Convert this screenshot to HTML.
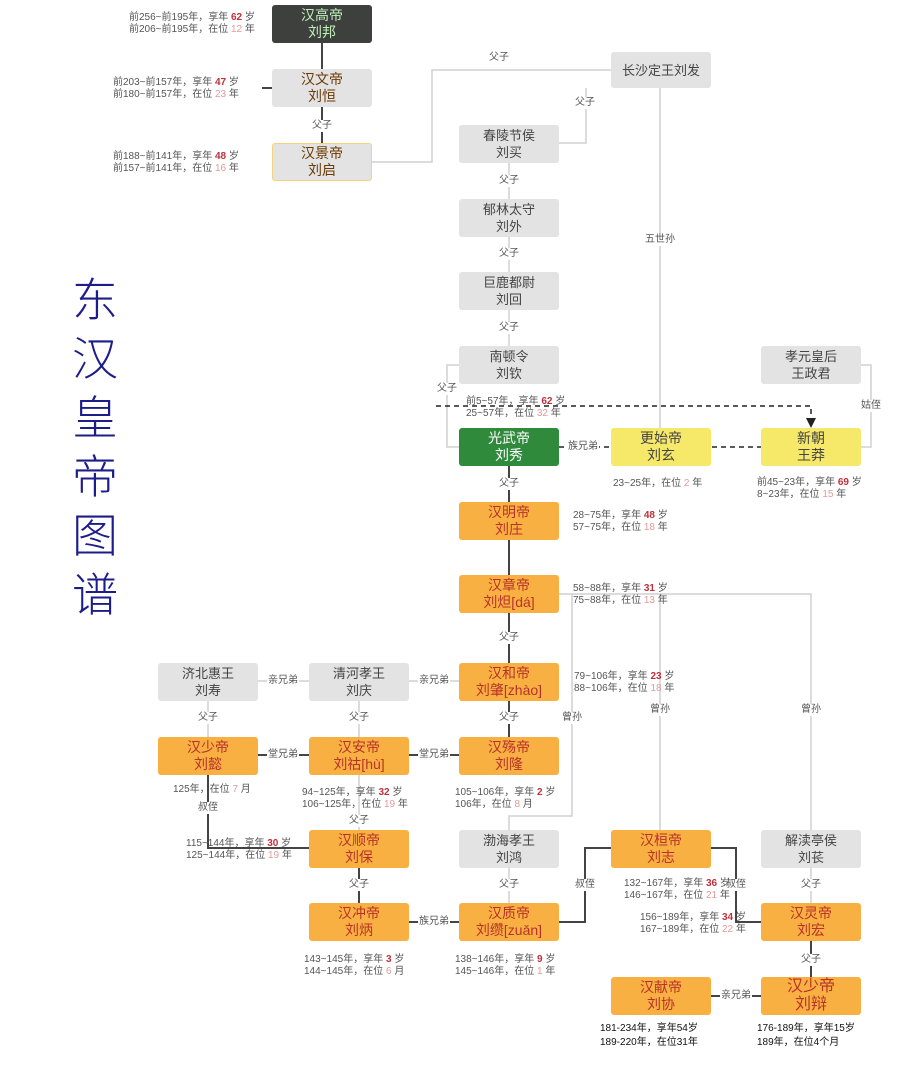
<!DOCTYPE html>
<html><head><meta charset="utf-8"><style>
body{margin:0;width:904px;height:1073px;background:#fff;position:relative;overflow:hidden;font-family:"Liberation Sans","Noto Sans CJK SC",sans-serif;}
.b{position:absolute;width:100px;height:38px;border-radius:3px;display:flex;flex-direction:column;align-items:center;justify-content:center;font-size:13px;line-height:17px;text-align:center;box-sizing:border-box}
.g{background:#e3e3e3;color:#444}
.o{background:#f8b042;color:#b8322a;font-size:14px}
.y{background:#f6e96a;color:#444;font-size:14px}
.t{position:absolute;font-size:10px;line-height:12px;color:#555;white-space:nowrap}
.t b{color:#c0303a}
.t i{font-style:normal;color:#e29a9a}
.l{position:absolute;font-size:10px;color:#555;background:#fff;line-height:12px;padding:0 1px;transform:translate(-50%,-50%);white-space:nowrap}
svg{position:absolute;left:0;top:0}
.title{position:absolute;left:72px;top:268px;width:52px;font-size:46px;line-height:59px;color:#1c1c8a;font-family:"Noto Sans CJK SC",sans-serif;font-weight:300}
</style></head><body>
<svg width="904" height="1073">
<g stroke="#d0d0d0" stroke-width="1.5" fill="none">
<path d="M372 162H432V70H611"/>
<path d="M586 88V143H559"/>
<path d="M660 88V428"/>
<path d="M509 162V199M509 236V272M509 309V346"/>
<path d="M459 365H447V447H459"/>
<path d="M861 365H871V447H861"/>
<path d="M559 594H811V830M660 594V830M572 594V816H509V830"/>
<path d="M258 681H309M409 681H459"/>
<path d="M208 700V737M359 700V737M359 774V830M509 867V903M811 867V903"/>
</g>
<g stroke="#444" stroke-width="2" fill="none">
<path d="M322 42V69M262 88H272M322 107V143"/>
<path d="M509 466V502M509 540V575M509 613V663M509 700V737"/>
<path d="M258 755H309M409 755H459"/>
<path d="M208 774V848H309"/>
<path d="M359 867V903M409 922H459"/>
<path d="M559 922H585V848H611"/>
<path d="M710 848H736V922H761"/>
<path d="M811 941V977M710 996H761"/>
</g>
<g stroke="#222" stroke-width="1.5" fill="none" stroke-dasharray="5,4">
<path d="M436 406H811V420"/>
<path d="M559 447H761"/>
</g>
<path d="M806 418L811 428L816 418Z" fill="#222"/>
</svg>
<div class="title">东<br>汉<br>皇<br>帝<br>图<br>谱</div>

<div class="b" style="left:272px;top:5px;background:#3e403e;color:#bff0b8;font-size:14px">汉高帝<br>刘邦</div>
<div class="b g" style="left:272px;top:69px;color:#6b3a00;font-size:14px">汉文帝<br>刘恒</div>
<div class="b g" style="left:272px;top:143px;color:#6b3a00;font-size:14px;border:1px solid #f3d37a">汉景帝<br>刘启</div>
<div class="b g" style="left:611px;top:52px;height:36px">长沙定王刘发</div>
<div class="b g" style="left:459px;top:125px">春陵节侯<br>刘买</div>
<div class="b g" style="left:459px;top:199px">郁林太守<br>刘外</div>
<div class="b g" style="left:459px;top:272px">巨鹿都尉<br>刘回</div>
<div class="b g" style="left:459px;top:346px">南顿令<br>刘钦</div>
<div class="b g" style="left:761px;top:346px">孝元皇后<br>王政君</div>
<div class="b" style="left:459px;top:428px;background:#2f8a3c;color:#fff;font-size:14px">光武帝<br>刘秀</div>
<div class="b y" style="left:611px;top:428px">更始帝<br>刘玄</div>
<div class="b y" style="left:761px;top:428px">新朝<br>王莽</div>
<div class="b o" style="left:459px;top:502px">汉明帝<br>刘庄</div>
<div class="b o" style="left:459px;top:575px">汉章帝<br>刘炟[dá]</div>
<div class="b g" style="left:158px;top:663px">济北惠王<br>刘寿</div>
<div class="b g" style="left:309px;top:663px">清河孝王<br>刘庆</div>
<div class="b o" style="left:459px;top:663px">汉和帝<br>刘肇[zhào]</div>
<div class="b o" style="left:158px;top:737px">汉少帝<br>刘懿</div>
<div class="b o" style="left:309px;top:737px">汉安帝<br>刘祜[hù]</div>
<div class="b o" style="left:459px;top:737px">汉殇帝<br>刘隆</div>
<div class="b o" style="left:309px;top:830px">汉顺帝<br>刘保</div>
<div class="b g" style="left:459px;top:830px">渤海孝王<br>刘鸿</div>
<div class="b o" style="left:611px;top:830px">汉桓帝<br>刘志</div>
<div class="b g" style="left:761px;top:830px">解渎亭侯<br>刘苌</div>
<div class="b o" style="left:309px;top:903px">汉冲帝<br>刘炳</div>
<div class="b o" style="left:459px;top:903px">汉质帝<br>刘缵[zuǎn]</div>
<div class="b o" style="left:761px;top:903px">汉灵帝<br>刘宏</div>
<div class="b o" style="left:611px;top:977px">汉献帝<br>刘协</div>
<div class="b o" style="left:761px;top:977px;font-size:16px;line-height:18px">汉少帝<br>刘辩</div>

<div class="l" style="left:322px;top:126px">父子</div>
<div class="l" style="left:499px;top:58px">父子</div>
<div class="l" style="left:585px;top:103px">父子</div>
<div class="l" style="left:660px;top:240px">五世孙</div>
<div class="l" style="left:509px;top:181px">父子</div>
<div class="l" style="left:509px;top:254px">父子</div>
<div class="l" style="left:509px;top:328px">父子</div>
<div class="l" style="left:447px;top:389px">父子</div>
<div class="l" style="left:871px;top:406px">姑侄</div>
<div class="l" style="left:583px;top:447px">族兄弟</div>
<div class="l" style="left:509px;top:484px">父子</div>
<div class="l" style="left:509px;top:638px">父子</div>
<div class="l" style="left:283px;top:681px">亲兄弟</div>
<div class="l" style="left:434px;top:681px">亲兄弟</div>
<div class="l" style="left:208px;top:718px">父子</div>
<div class="l" style="left:359px;top:718px">父子</div>
<div class="l" style="left:509px;top:718px">父子</div>
<div class="l" style="left:572px;top:718px">曾孙</div>
<div class="l" style="left:660px;top:710px">曾孙</div>
<div class="l" style="left:811px;top:710px">曾孙</div>
<div class="l" style="left:283px;top:755px">堂兄弟</div>
<div class="l" style="left:434px;top:755px">堂兄弟</div>
<div class="l" style="left:208px;top:808px">叔侄</div>
<div class="l" style="left:359px;top:821px">父子</div>
<div class="l" style="left:359px;top:885px">父子</div>
<div class="l" style="left:509px;top:885px">父子</div>
<div class="l" style="left:585px;top:885px">叔侄</div>
<div class="l" style="left:736px;top:885px">叔侄</div>
<div class="l" style="left:811px;top:885px">父子</div>
<div class="l" style="left:434px;top:922px">族兄弟</div>
<div class="l" style="left:811px;top:960px">父子</div>
<div class="l" style="left:736px;top:996px">亲兄弟</div>

<div class="t" style="left:129px;top:12px">前256~前195年，享年 <b>62</b> 岁<br>前206~前195年，在位 <i>12</i> 年</div>
<div class="t" style="left:113px;top:77px">前203~前157年，享年 <b>47</b> 岁<br>前180~前157年，在位 <i>23</i> 年</div>
<div class="t" style="left:113px;top:151px">前188~前141年，享年 <b>48</b> 岁<br>前157~前141年，在位 <i>16</i> 年</div>
<div class="t" style="left:466px;top:396px">前5~57年，享年 <b>62</b> 岁<br>25~57年，在位 <i>32</i> 年</div>
<div class="t" style="left:613px;top:478px">23~25年，在位 <i>2</i> 年</div>
<div class="t" style="left:757px;top:477px">前45~23年，享年 <b>69</b> 岁<br>8~23年，在位 <i>15</i> 年</div>
<div class="t" style="left:573px;top:510px">28~75年，享年 <b>48</b> 岁<br>57~75年，在位 <i>18</i> 年</div>
<div class="t" style="left:573px;top:583px">58~88年，享年 <b>31</b> 岁<br>75~88年，在位 <i>13</i> 年</div>
<div class="t" style="left:574px;top:671px">79~106年，享年 <b>23</b> 岁<br>88~106年，在位 <i>18</i> 年</div>
<div class="t" style="left:173px;top:784px">125年，在位 <i>7</i> 月</div>
<div class="t" style="left:302px;top:787px">94~125年，享年 <b>32</b> 岁<br>106~125年，在位 <i>19</i> 年</div>
<div class="t" style="left:455px;top:787px">105~106年，享年 <b>2</b> 岁<br>106年，在位 <i>8</i> 月</div>
<div class="t" style="left:186px;top:838px">115~144年，享年 <b>30</b> 岁<br>125~144年，在位 <i>19</i> 年</div>
<div class="t" style="left:624px;top:878px">132~167年，享年 <b>36</b> 岁<br>146~167年，在位 <i>21</i> 年</div>
<div class="t" style="left:640px;top:912px">156~189年，享年 <b>34</b> 岁<br>167~189年，在位 <i>22</i> 年</div>
<div class="t" style="left:304px;top:954px">143~145年，享年 <b>3</b> 岁<br>144~145年，在位 <i>6</i> 月</div>
<div class="t" style="left:455px;top:954px">138~146年，享年 <b>9</b> 岁<br>145~146年，在位 <i>1</i> 年</div>
<div class="t" style="left:600px;top:1022px;color:#111;line-height:14px">181-234年，享年54岁<br>189-220年，在位31年</div>
<div class="t" style="left:757px;top:1022px;color:#111;line-height:14px">176-189年，享年15岁<br>189年，在位4个月</div>
</body></html>
